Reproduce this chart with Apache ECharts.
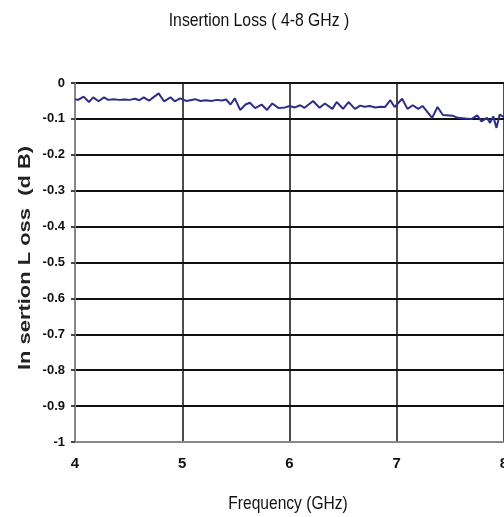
<!DOCTYPE html>
<html>
<head>
<meta charset="utf-8">
<script src="https://cdn.jsdelivr.net/npm/echarts@6/dist/echarts.min.js"></script>
<style>
  html, body { margin: 0; padding: 0; background: #fff; }
  #chart { width: 504px; height: 517px; }
</style>
</head>
<body>
<div id="chart"></div>
<script>
// Measured insertion loss across the 4-8 GHz band (sweep points)
const frequencyGHz = [
  4.00, 4.03, 4.08, 4.13, 4.17, 4.22, 4.27, 4.31, 4.36, 4.41,
  4.46, 4.51, 4.56, 4.60, 4.64, 4.69, 4.78, 4.83, 4.89, 4.93,
  4.98, 5.04, 5.12, 5.17, 5.22, 5.27, 5.32, 5.37, 5.41, 5.45,
  5.49, 5.54, 5.59, 5.63, 5.68, 5.74, 5.79, 5.84, 5.90, 5.96,
  6.00, 6.05, 6.10, 6.14, 6.22, 6.28, 6.33, 6.40, 6.44, 6.50,
  6.55, 6.61, 6.66, 6.70, 6.75, 6.80, 6.85, 6.89, 6.94, 6.98,
  7.05, 7.10, 7.15, 7.20, 7.24, 7.33, 7.38, 7.43, 7.52, 7.57,
  7.64, 7.70, 7.75, 7.79, 7.84, 7.87, 7.90, 7.93, 7.96, 8.00
];
const insertionLossDb = [
  -0.045, -0.047, -0.038, -0.053, -0.040, -0.051, -0.040, -0.047, -0.045, -0.047,
  -0.046, -0.047, -0.044, -0.048, -0.040, -0.049, -0.029, -0.051, -0.040, -0.051,
  -0.043, -0.050, -0.045, -0.050, -0.048, -0.050, -0.047, -0.049, -0.046, -0.060,
  -0.043, -0.075, -0.060, -0.055, -0.070, -0.060, -0.075, -0.057, -0.070, -0.068,
  -0.064, -0.068, -0.062, -0.069, -0.050, -0.069, -0.057, -0.072, -0.053, -0.072,
  -0.053, -0.072, -0.063, -0.066, -0.064, -0.068, -0.066, -0.067, -0.048, -0.067,
  -0.044, -0.072, -0.062, -0.072, -0.064, -0.097, -0.067, -0.089, -0.091, -0.097,
  -0.099, -0.100, -0.090, -0.107, -0.097, -0.111, -0.093, -0.125, -0.088, -0.095
];
const titleText = 'Insertion Loss ( 4-8 GHz )';
const xAxisTitle = 'Frequency (GHz)';
const yAxisTitle = 'In sertion L oss  (d B)';

const chart = echarts.init(document.getElementById('chart'), null, { renderer: 'canvas' });
const sans = '"Liberation Sans", Arial, sans-serif';

chart.setOption({
  animation: false,
  backgroundColor: '#ffffff',
  grid: { left: 75, right: 0, top: 83, bottom: 75, containLabel: false, outerBoundsMode: 'none' },
  xAxis: {
    type: 'value',
    min: 4, max: 8, interval: 1,
    axisLine: { show: true, onZero: false, lineStyle: { color: '#888', width: 2 } },
    axisTick: { show: false },
    axisLabel: { fontFamily: sans, fontSize: 15, fontWeight: 'bold', color: '#111', margin: 14 },
    splitLine: { show: true, lineStyle: { color: '#111', width: 1.5 } }
  },
  yAxis: {
    type: 'value',
    min: -1, max: 0, interval: 0.1,
    axisLine: { show: true, onZero: false, lineStyle: { color: '#888', width: 2 } },
    axisTick: { show: true, length: 4, lineStyle: { color: '#444', width: 2 } },
    axisLabel: {
      fontFamily: sans, fontSize: 13, fontWeight: 'bold', color: '#111', margin: 10,
      formatter: v => String(Math.round(v * 10) / 10)
    },
    splitLine: { show: true, lineStyle: { color: '#111', width: 2 } }
  },
  graphic: [
    {
      // chart title, set in a condensed face
      type: 'text',
      x: 259, y: 21,
      scaleX: 0.83,
      style: {
        text: titleText,
        font: '19px ' + sans,
        fill: '#111',
        align: 'center',
        verticalAlign: 'middle'
      }
    },
    {
      type: 'text',
      x: 288, y: 504,
      scaleX: 0.82,
      style: {
        text: xAxisTitle,
        font: '19px ' + sans,
        fill: '#111',
        align: 'center',
        verticalAlign: 'middle'
      }
    },
    {
      type: 'text',
      x: 26, y: 258,
      rotation: Math.PI / 2,
      scaleX: 1.37,
      style: {
        text: yAxisTitle,
        font: 'bold 16px ' + sans,
        fill: '#222',
        align: 'center',
        verticalAlign: 'middle'
      }
    }
  ],
  series: [{
    type: 'line',
    data: frequencyGHz.map((f, i) => [f, insertionLossDb[i]]),
    showSymbol: false,
    smooth: false,
    lineStyle: { color: '#2e2e86', width: 2 },
    z: 5
  }]
});
</script>
</body>
</html>
